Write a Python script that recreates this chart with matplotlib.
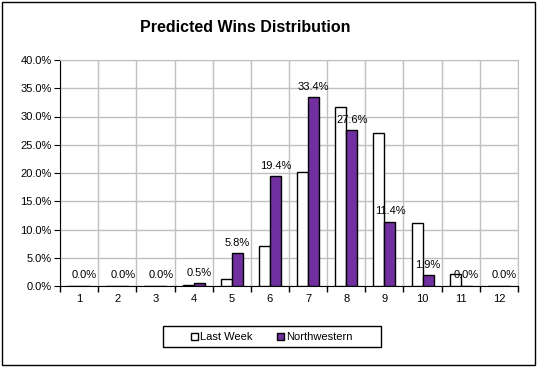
import matplotlib
matplotlib.use("Agg")
import matplotlib.pyplot as plt
import numpy as np
from matplotlib.patches import Rectangle

plt.rcParams['font.family'] = ['Liberation Sans', 'DejaVu Sans']

wins = ['1', '2', '3', '4', '5', '6', '7', '8', '9', '10', '11', '12']
last_week = [0.0, 0.0, 0.0, 0.2, 1.2, 7.1, 20.2, 31.7, 27.1, 11.2, 2.1, 0.0]
northwestern = [0.0, 0.0, 0.0, 0.5, 5.8, 19.4, 33.4, 27.6, 11.4, 1.9, 0.0, 0.0]

fig = plt.figure(figsize=(5.37, 3.67), dpi=100)
ax = fig.add_axes([60 / 537, 1 - 286 / 367, 458 / 537, 226 / 367])

x = np.arange(len(wins))
w = 0.29
ax.bar(x - w / 2, last_week, w, color='white', edgecolor='black', linewidth=1,
       label='Last Week', zorder=3)
ax.bar(x + w / 2, northwestern, w, color='#7030A0', edgecolor='black', linewidth=1,
       label='Northwestern', zorder=3)

for xi, v in zip(x, northwestern):
    ax.annotate(f"{v:.1f}%", (xi + w / 2, v), xytext=(0, 4), textcoords='offset points',
                ha='center', va='bottom', fontsize=8)

ax.set_xlim(-0.5, len(wins) - 0.5)
ax.set_ylim(0, 40)
ax.set_yticks(np.arange(0, 41, 5))
ax.set_yticklabels([f"{t:.1f}%" for t in np.arange(0, 41, 5)], fontsize=8)
ax.set_xticks(x)
ax.set_xticklabels(wins, fontsize=8)
ax.set_xticks(np.arange(-0.5, len(wins), 1), minor=True)
ax.tick_params(axis='x', which='major', length=0, pad=6)
ax.tick_params(axis='x', which='minor', length=4, direction='out', width=1)
ax.tick_params(axis='y', length=4, direction='out', pad=2)

ax.grid(axis='y', color='#c0c0c0', linewidth=1, zorder=0)
ax.grid(axis='x', which='minor', color='#c0c0c0', linewidth=1, zorder=0)
for s in ['top', 'right']:
    ax.spines[s].set_color('#c0c0c0')
for s in ['left', 'bottom']:
    ax.spines[s].set_color('black')
ax.set_axisbelow(True)

fig.text(245 / 537, 1 - 28 / 367, 'Predicted Wins Distribution', ha='center', va='center',
         fontsize=11.5, fontweight='bold')

# legend without its own frame, box drawn separately (Excel style, wide padding)
fig.legend(loc='center', bbox_to_anchor=(272 / 537, 1 - 337 / 367), ncol=2,
           fontsize=8, frameon=False, handlelength=0.6, handleheight=0.6,
           handletextpad=0.2, columnspacing=2.2)
fig.patches.append(Rectangle((163 / 537, 1 - 347 / 367), 218 / 537, 21 / 367,
                             transform=fig.transFigure, fill=False, edgecolor='black', linewidth=1))

fig.patches.append(Rectangle((2 / 537, 2 / 367), 533 / 537, 363 / 367, transform=fig.transFigure,
                             fill=False, edgecolor='black', linewidth=1))

fig.savefig('out.png', dpi=100)
